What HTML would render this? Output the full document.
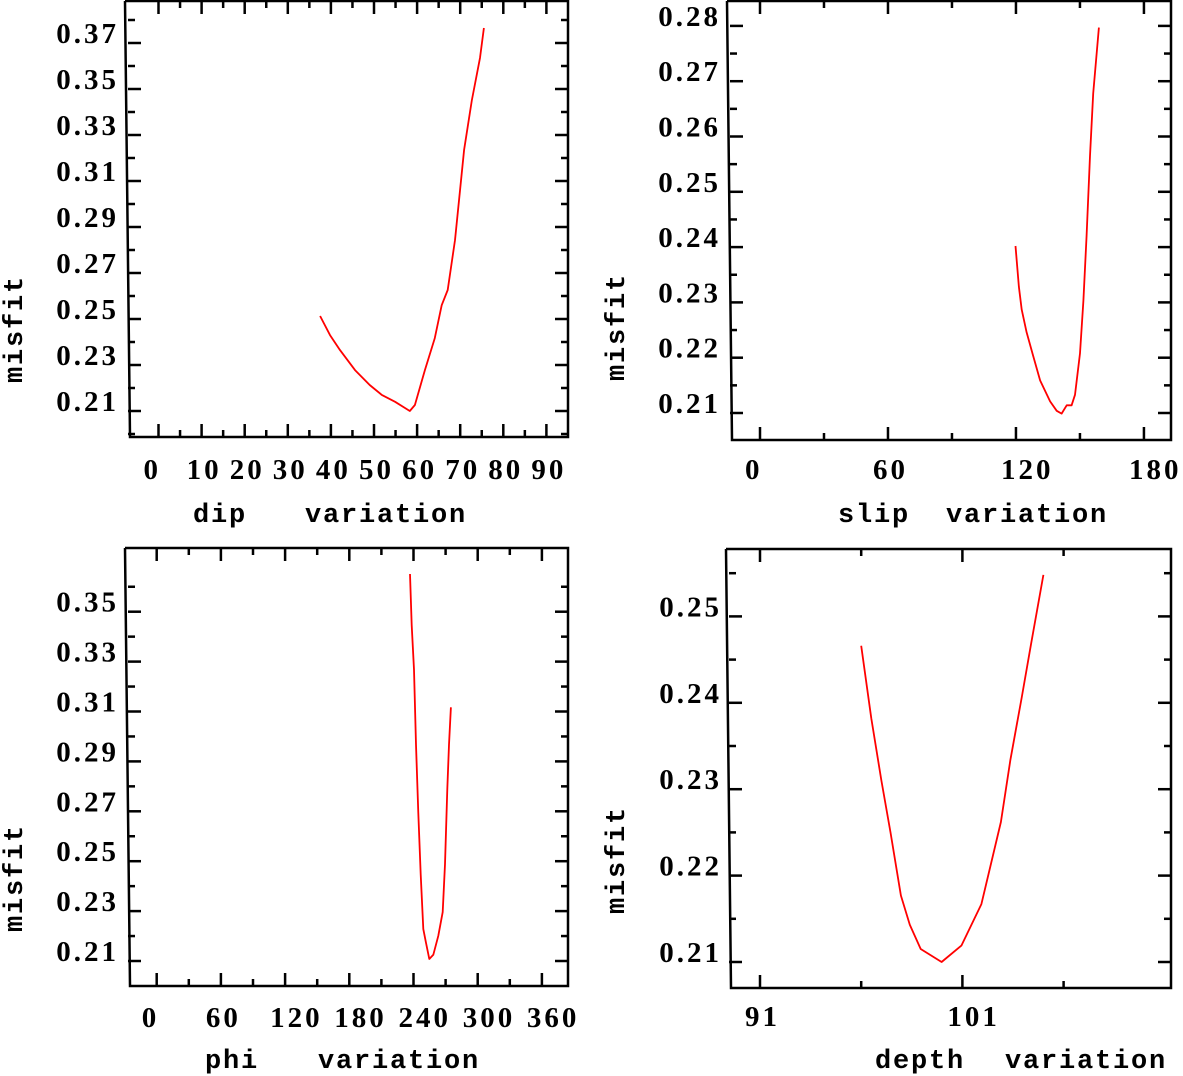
<!DOCTYPE html>
<html><head><meta charset="utf-8"><style>
html,body{margin:0;padding:0;background:#fff;}
svg{display:block;}
.tk{font-family:"Liberation Serif",serif;font-weight:bold;font-size:29px;letter-spacing:3px;fill:#000;}
.tt{font-family:"Liberation Mono",monospace;font-weight:bold;font-size:27px;letter-spacing:1.8px;fill:#000;}
</style></head><body>
<svg id="chart" width="1183" height="1076" viewBox="0 0 1183 1076" xmlns="http://www.w3.org/2000/svg"></svg>
<script>
// ---- data ----
const dipX = [37.5,39.8,42.1,45.6,49,51.8,54.9,57.2,58.3,59.5,61.8,64.1,65.7,67.1,68.8,70.9,72.7,74.6,75.5];
const dipY = [0.2513,0.243,0.2365,0.2278,0.2213,0.217,0.214,0.2113,0.210,0.2126,0.2278,0.2417,0.256,0.2626,0.2843,0.3235,0.345,0.3635,0.3765];
const slipX = [119.8,121.4,122.7,125,128.1,131.3,136,139.1,141.4,143.8,146.1,147.7,150,151.6,153.1,154.7,156.2,158.9];
const slipY = [0.2402,0.2328,0.2287,0.2246,0.2203,0.2159,0.2121,0.2104,0.2099,0.2114,0.2114,0.2133,0.2208,0.2303,0.2421,0.2565,0.2678,0.2797];
const phiX = [236.7,238.3,240.5,242.3,244.5,246.7,249.2,251.7,254.8,258.5,263.2,267.3,269.4,271.6,273.2,275];
const phiY = [0.3651,0.3446,0.3268,0.2967,0.2693,0.2447,0.2228,0.2173,0.2108,0.2125,0.2201,0.2296,0.2488,0.2789,0.2967,0.3117];
const depthX = [96.0,96.5,97.0,97.45,97.96,98.4,98.94,99.97,100.95,101.94,102.9,103.37,103.93,104.4,105.0];
const depthY = [0.2466,0.2382,0.2310,0.2250,0.2177,0.2143,0.2115,0.2100,0.2119,0.2167,0.2262,0.2334,0.2406,0.2469,0.2548];

const dipXTicks = [0,10,20,30,40,50,60,70,80,90];
const dipXMinor = [5,15,25,35,45,55,65,75,85];
const dipYTicks = [0.21,0.23,0.25,0.27,0.29,0.31,0.33,0.35,0.37];
const dipYMinor = [0.20,0.22,0.24,0.26,0.28,0.30,0.32,0.34,0.36,0.38];
const dipYLabels = ["0.21","0.23","0.25","0.27","0.29","0.31","0.33","0.35","0.37"];

const slipXTicks = [0,60,120,180];
const slipXMinor = [30,90,150];
const slipYTicks = [0.21,0.22,0.23,0.24,0.25,0.26,0.27,0.28];
const slipYMinor = [0.205,0.215,0.225,0.235,0.245,0.255,0.265,0.275];
const slipYLabels = ["0.21","0.22","0.23","0.24","0.25","0.26","0.27","0.28"];

const phiXTicks = [0,60,120,180,240,300,360];
const phiXMinor = [30,90,150,210,270,330];
const phiYTicks = [0.21,0.23,0.25,0.27,0.29,0.31,0.33,0.35];
const phiYMinor = [0.22,0.24,0.26,0.28,0.30,0.32,0.34,0.36];
const phiYLabels = ["0.21","0.23","0.25","0.27","0.29","0.31","0.33","0.35"];

const depthXTicks = [91,101];
const depthXMinor = [96,106];
const depthYTicks = [0.21,0.22,0.23,0.24,0.25];
const depthYMinor = [0.215,0.225,0.235,0.245,0.255];
const depthYLabels = ["0.21","0.22","0.23","0.24","0.25"];

// ---- drawing ----
const svg = document.getElementById('chart');
const NS = 'http://www.w3.org/2000/svg';
function mk(tag, attrs){const e=document.createElementNS(NS,tag);for(const k in attrs)e.setAttribute(k,attrs[k]);return e;}

function panel(cfg){
  const g = mk('g',{});
  
  
  svg.appendChild(g);
  const sx = v => cfg.x0px + (v - cfg.x0v) * cfg.xs;
  const sy = v => cfg.y0px - (v - cfg.y0v) * cfg.ys;
  const L=cfg.left, R=cfg.right, T=cfg.top, B=cfg.bottom;
  const fr = mk('path',{d:`M${L-5},${T} L${L},${B} L${R},${B} L${R},${T} L${L-5},${T}`,fill:'none',stroke:'#000','stroke-width':2.5});
  
  
  g.appendChild(fr);
  const lt = L-2;
  function tick(x1,y1,x2,y2){g.appendChild(mk('line',{x1,y1,x2,y2,stroke:'#000','stroke-width':2.5}));}
  cfg.xTicks.forEach(v=>{const x=sx(v);tick(x,B,x,B-13);tick(x,T,x,T+13);
    const t=mk('text',{x:x-15,y:cfg.xLabelY,class:'tk'});t.textContent=String(v);
    
    
    g.appendChild(t);});
  cfg.xMinor.forEach(v=>{const x=sx(v);tick(x,B,x,B-7);tick(x,T,x,T+7);});
  cfg.yTicks.forEach((v,i)=>{const y=sy(v);tick(lt,y,lt+13,y);tick(R,y,R-13,y);
    const t=mk('text',{x:cfg.yLabelX,y:y,class:'tk','text-anchor':'end'});t.textContent=cfg.yLabels[i];
    
    
    g.appendChild(t);});
  cfg.yMinor.forEach(v=>{const y=sy(v);if(y>T+2&&y<B-2){tick(lt,y,lt+7,y);tick(R,y,R-7,y);}});
  const pts = cfg.xs_data.map((v,i)=>sx(v).toFixed(1)+','+sy(cfg.ys_data[i]).toFixed(1)).join(' ');
  const pl = mk('polyline',{points:pts,fill:'none',stroke:'#ff0000','stroke-width':1.8,'stroke-linejoin':'round'});
  
  
  g.appendChild(pl);
  cfg.titles.forEach(tt=>{const t=mk('text',{x:tt[1],y:cfg.titleY,class:'tt'});t.textContent=tt[0];
    
    
    g.appendChild(t);});
  const yt = mk('text',{x:0,y:0,class:'tt','text-anchor':'middle',transform:`translate(${cfg.yTitleX},${cfg.yTitleY}) rotate(-90)`});
  yt.textContent='misfit';
  
  
  g.appendChild(yt);
}

panel({name:'dip',left:130,right:568,top:1,bottom:437,x0px:158.5,x0v:0,xs:4.31,y0px:411,y0v:0.21,ys:2300,
  xTicks:dipXTicks,xMinor:dipXMinor,yTicks:dipYTicks,yMinor:dipYMinor,yLabels:dipYLabels,
  xs_data:dipX,ys_data:dipY,xLabelY:479,yLabelX:119,titleY:522,titles:[['dip',193],['variation',305]],yTitleX:22,yTitleY:329});
panel({name:'slip',left:732,right:1171,top:1,bottom:440,x0px:760,x0v:0,xs:2.133,y0px:413,y0v:0.21,ys:5530,
  xTicks:slipXTicks,xMinor:slipXMinor,yTicks:slipYTicks,yMinor:slipYMinor,yLabels:slipYLabels,
  xs_data:slipX,ys_data:slipY,xLabelY:479,yLabelX:721,titleY:522,titles:[['slip',838],['variation',946]],yTitleX:624,yTitleY:327});
panel({name:'phi',left:130,right:568,top:548,bottom:986,x0px:156.7,x0v:0,xs:1.07,y0px:961,y0v:0.21,ys:2495,
  xTicks:phiXTicks,xMinor:phiXMinor,yTicks:phiYTicks,yMinor:phiYMinor,yLabels:phiYLabels,
  xs_data:phiX,ys_data:phiY,xLabelY:1027,yLabelX:119,titleY:1068,titles:[['phi',205],['variation',318]],yTitleX:22,yTitleY:878});
panel({name:'depth',left:731,right:1171,top:549,bottom:988,x0px:760,x0v:91,xs:20.24,y0px:962,y0v:0.21,ys:8640,
  xTicks:depthXTicks,xMinor:depthXMinor,yTicks:depthYTicks,yMinor:depthYMinor,yLabels:depthYLabels,
  xs_data:depthX,ys_data:depthY,xLabelY:1026,yLabelX:722,titleY:1068,titles:[['depth',875],['variation',1005]],yTitleX:624,yTitleY:860});
</script>
</body></html>
